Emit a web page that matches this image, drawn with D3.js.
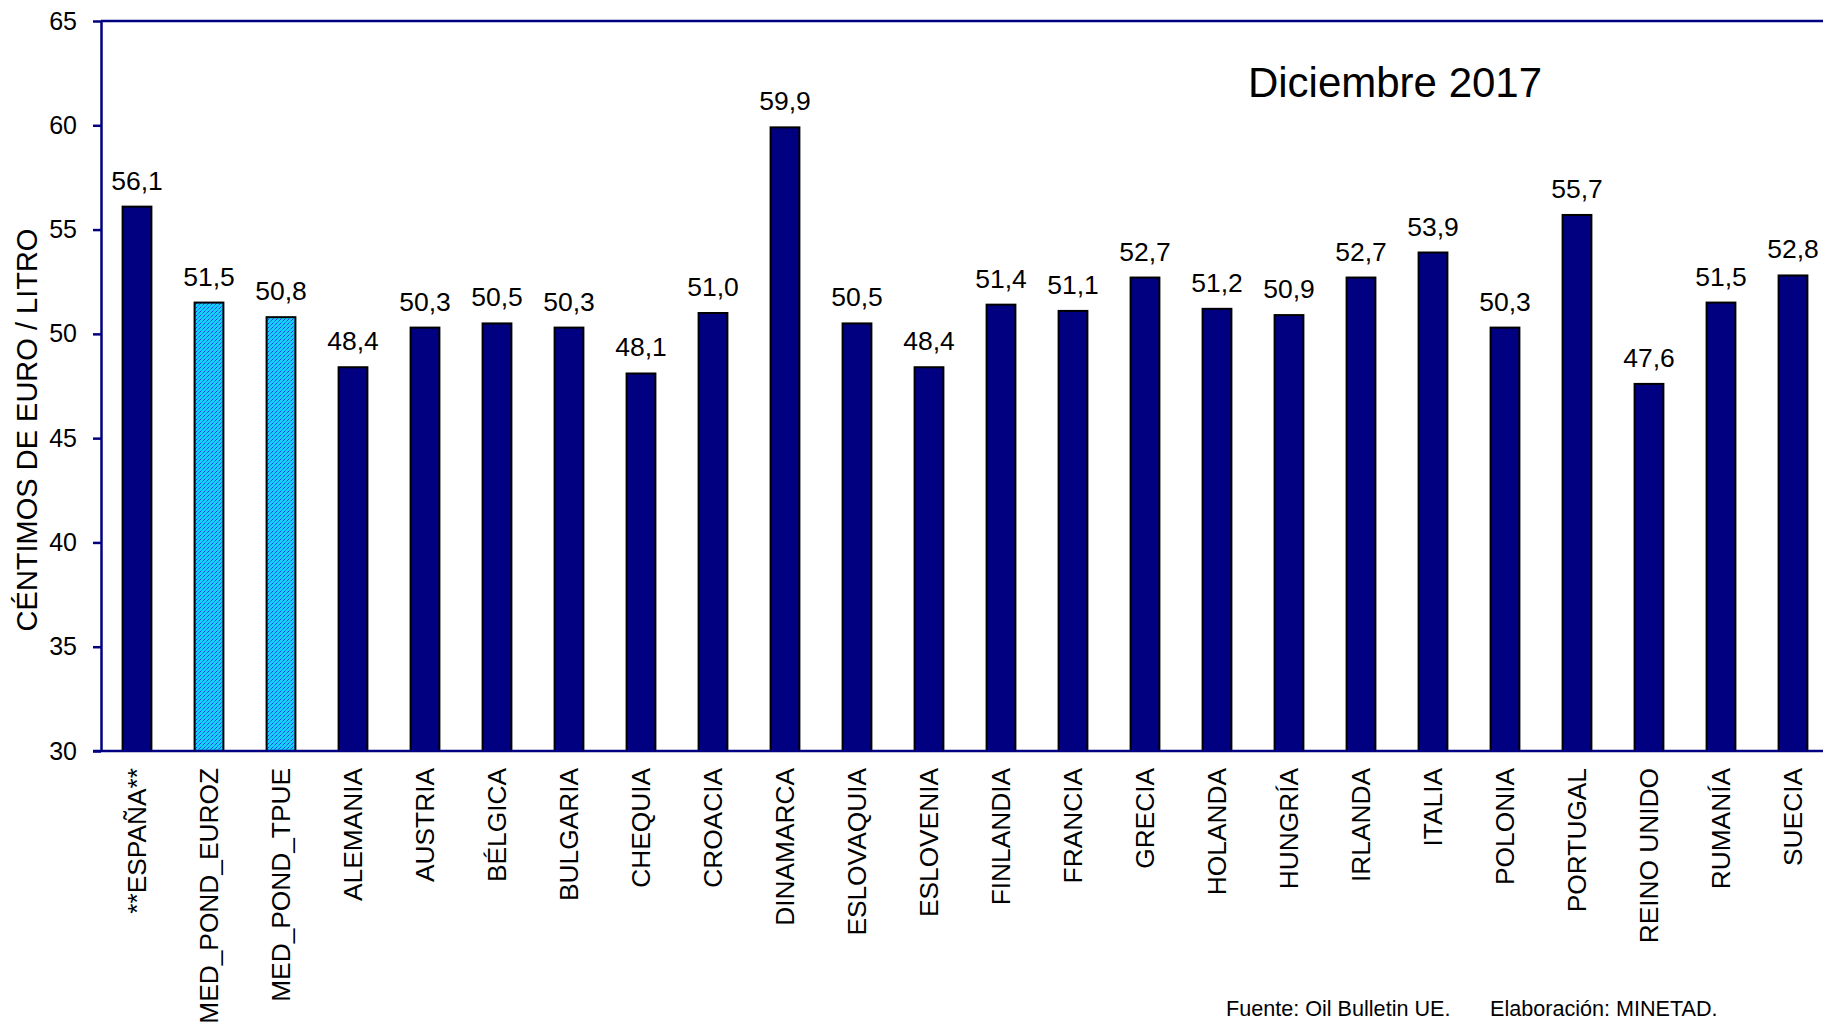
<!DOCTYPE html>
<html lang="es">
<head>
<meta charset="UTF-8">
<title>Diciembre 2017</title>
<script src="https://d3js.org/d3.v7.min.js"></script>
<style>
  body { margin: 0; background: #fff; }
  svg text { font-family: Arial, "Liberation Sans", sans-serif; fill: #000; }
</style>
</head>
<body>
<svg width="1823" height="1027"></svg>
<script>
// categories and values (céntimos de euro / litro)
var categories = ["**ESPAÑA**", "MED_POND_EUROZ", "MED_POND_TPUE", "ALEMANIA", "AUSTRIA", "BÉLGICA",
  "BULGARIA", "CHEQUIA", "CROACIA", "DINAMARCA", "ESLOVAQUIA", "ESLOVENIA", "FINLANDIA", "FRANCIA",
  "GRECIA", "HOLANDA", "HUNGRÍA", "IRLANDA", "ITALIA", "POLONIA", "PORTUGAL", "REINO UNIDO", "RUMANÍA", "SUECIA"];
var values = [56.1, 51.5, 50.8, 48.4, 50.3, 50.5, 50.3, 48.1, 51.0, 59.9, 50.5, 48.4, 51.4, 51.1,
  52.7, 51.2, 50.9, 52.7, 53.9, 50.3, 55.7, 47.6, 51.5, 52.8];
var hatched = ["MED_POND_EUROZ", "MED_POND_TPUE"];
var yTicks = [30, 35, 40, 45, 50, 55, 60, 65];

var svg = d3.select("svg");
var plotL = 101, plotT = 21, plotB = 751, plotR = 1829;
var font = "Arial, 'Liberation Sans', sans-serif";

// hatch pattern for the averages
var defs = svg.append("defs");
var pat = defs.append("pattern")
  .attr("id", "hatch")
  .attr("patternUnits", "userSpaceOnUse")
  .attr("width", 4).attr("height", 4);
pat.append("rect").attr("width", 4).attr("height", 4).attr("fill", "#14d0fa");
pat.append("path")
  .attr("d", "M-1,1 l2,-2 M0,4 l4,-4 M3,5 l2,-2")
  .attr("stroke", "#1a3cf0")
  .attr("stroke-width", 1)
  .attr("stroke-dasharray", "1.4 0.7");

var x = d3.scaleBand().domain(categories).range([plotL, plotR]).paddingInner(0.6).paddingOuter(0.3);
var y = d3.scaleLinear().domain([30, 65]).range([plotB, plotT]);

// bars
svg.append("g").selectAll("rect")
  .data(categories)
  .enter().append("rect")
  .attr("x", function(d) { return x(d); })
  .attr("width", x.bandwidth())
  .attr("y", function(d, i) { return y(values[i]); })
  .attr("height", function(d, i) { return y(30) - y(values[i]); })
  .attr("fill", function(d) { return hatched.indexOf(d) >= 0 ? "url(#hatch)" : "#000080"; })
  .attr("stroke", "#000")
  .attr("stroke-width", 2);

// value labels
svg.append("g").selectAll("text")
  .data(categories)
  .enter().append("text")
  .attr("x", function(d) { return x(d) + x.bandwidth() / 2; })
  .attr("y", function(d, i) { return y(values[i]) - 17; })
  .attr("text-anchor", "middle")
  .style("font-size", "26.5px")
  .text(function(d, i) { return values[i].toFixed(1).replace(".", ","); });

// y axis
var yAxis = svg.append("g")
  .attr("transform", "translate(" + plotL + ",0)")
  .call(d3.axisLeft(y).tickValues(yTicks).tickSize(8).tickPadding(16).tickSizeOuter(0));
yAxis.select(".domain").attr("stroke", "#000080").attr("stroke-width", 2.5);
yAxis.selectAll(".tick line").attr("stroke", "#000080").attr("stroke-width", 2.5);
yAxis.selectAll(".tick text").style("font-size", "25px").attr("fill", "#000")
  .style("font-family", font);

// x axis
var xAxis = svg.append("g")
  .attr("transform", "translate(0," + plotB + ")")
  .call(d3.axisBottom(x).tickSize(0).tickSizeOuter(0));
xAxis.select(".domain").attr("stroke", "#000080").attr("stroke-width", 2.5)
  .attr("d", "M" + (plotL - 8) + ",0H" + plotR);
xAxis.selectAll(".tick text")
  .style("font-size", "26.3px")
  .style("font-family", font)
  .attr("fill", "#000")
  .attr("text-anchor", "end")
  .attr("transform", "rotate(-90)")
  .attr("x", -17)
  .attr("y", 0)
  .attr("dy", "0.35em");

// top frame line
svg.append("line")
  .attr("x1", plotL).attr("x2", plotR)
  .attr("y1", plotT).attr("y2", plotT)
  .attr("stroke", "#000080").attr("stroke-width", 2.5);

// y axis title
svg.append("text")
  .attr("transform", "translate(37,430) rotate(-90)")
  .attr("text-anchor", "middle")
  .style("font-size", "29px")
  .text("CÉNTIMOS DE EURO / LITRO");

// title
svg.append("text")
  .attr("x", 1395).attr("y", 97)
  .attr("text-anchor", "middle")
  .style("font-size", "42px")
  .text("Diciembre 2017");

// footer
svg.append("text").attr("x", 1226).attr("y", 1016).style("font-size", "21.6px").text("Fuente: Oil Bulletin UE.");
svg.append("text").attr("x", 1490).attr("y", 1016).style("font-size", "21.6px").text("Elaboración: MINETAD.");
</script>
</body>
</html>
